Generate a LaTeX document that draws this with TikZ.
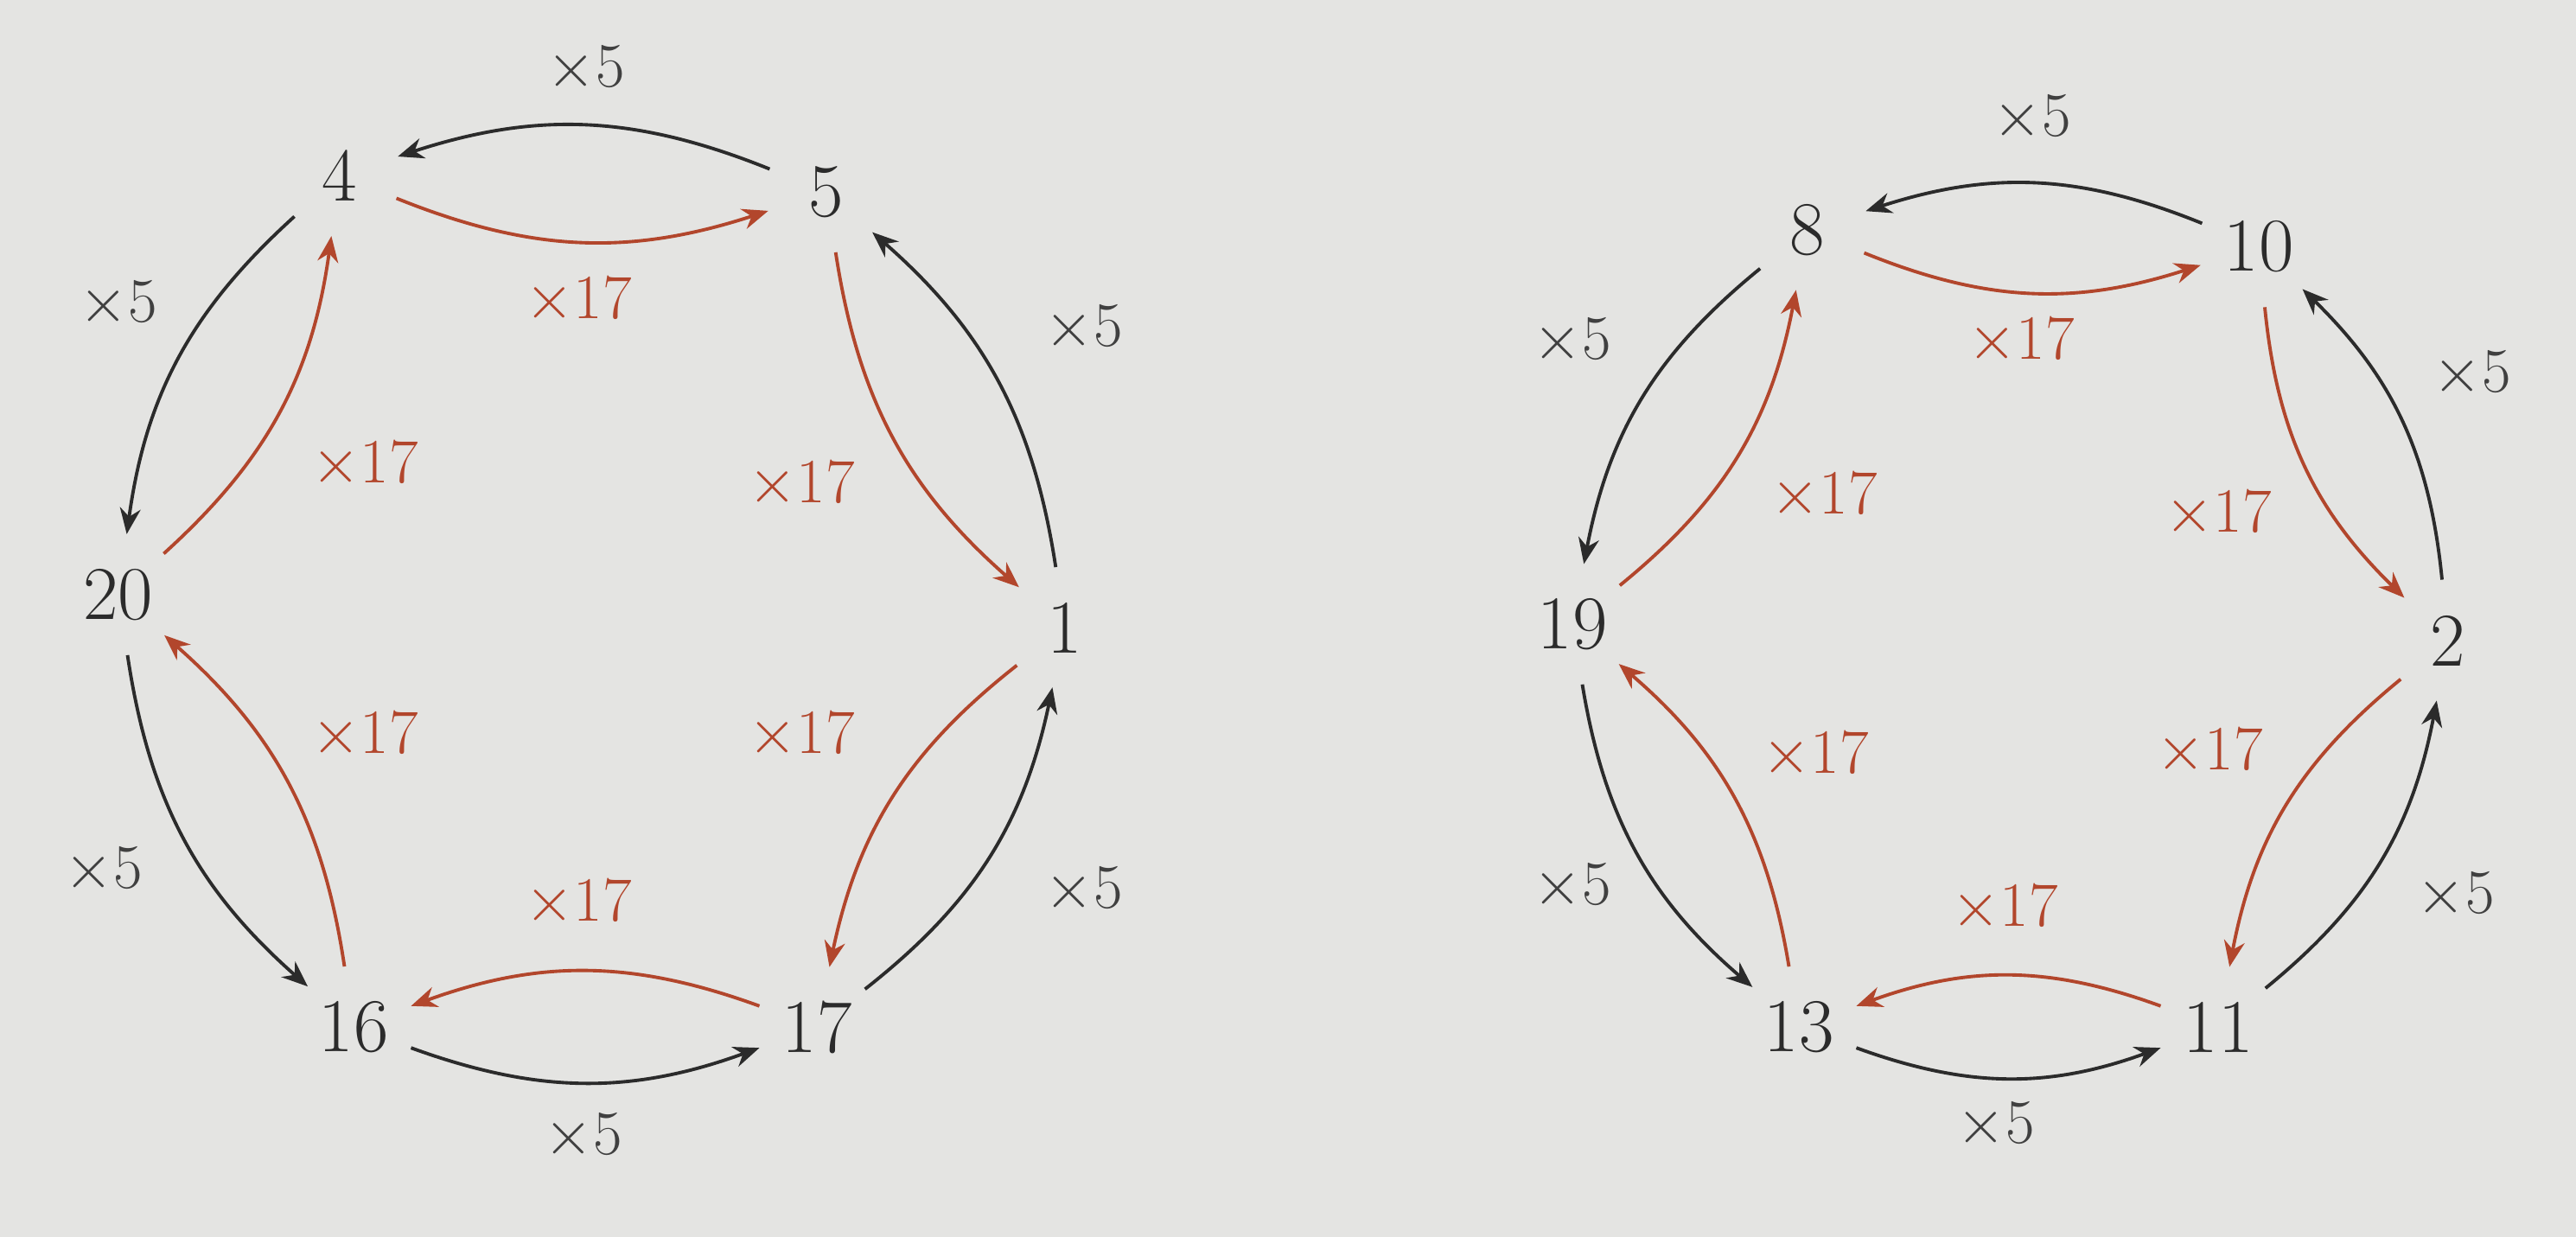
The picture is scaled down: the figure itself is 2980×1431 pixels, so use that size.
\documentclass[tikz,border=0pt]{standalone}
\usepackage{xcolor}
\usepackage{tikz}
\usetikzlibrary{arrows.meta,positioning}
\definecolor{paper}{HTML}{E4E4E2}
\definecolor{inkdark}{HTML}{2B2B2B}
\definecolor{rust}{HTML}{B2462C}
\tikzset{
  numnode/.style={
    circle, inner sep=2pt, minimum size=1.4cm,
    font=\fontsize{25}{30}\selectfont, text=inkdark
  },
  fivelabel/.style={font=\fontsize{21}{25}\selectfont, text=inkdark!90},
  sevlabel/.style={font=\fontsize{21}{25}\selectfont, text=rust},
  fivearrow/.style={-{Stealth[length=3mm,width=2.4mm]}, line width=1.1pt, color=inkdark, bend right=20},
  sevarrow/.style={-{Stealth[length=3mm,width=2.4mm]}, line width=1.1pt, color=rust, bend right=20},
}
\begin{document}
\begin{tikzpicture}[x=0.01cm, y=0.01cm]
  \fill[paper] (0,0) rectangle (2980,1431);
  \useasboundingbox (0,0) rectangle (2980,1431);

  % left cycle
  \node[numnode] (n4) at (393,1228) {4};
  \node[numnode] (n5) at (956,1209) {5};
  \node[numnode] (n1) at (1232,705) {1};
  \node[numnode] (n17) at (945,243) {17};
  \node[numnode] (n16) at (409,243) {16};
  \node[numnode] (n20) at (137,743) {20};

  % right cycle
  \node[numnode] (n8) at (2091,1165) {8};
  \node[numnode] (n10) at (2613,1146) {10};
  \node[numnode] (n2) at (2832,690) {2};
  \node[numnode] (n11) at (2566,243) {11};
  \node[numnode] (n13) at (2081,243) {13};
  \node[numnode] (n19) at (1819,709) {19};

  \foreach \a/\b in {n5/n4,n4/n20,n20/n16,n16/n17,n17/n1,n1/n5,
                     n10/n8,n8/n19,n19/n13,n13/n11,n11/n2,n2/n10}
    \draw[fivearrow] (\a) to (\b);
  \foreach \a/\b in {n4/n5,n20/n4,n16/n20,n17/n16,n1/n17,n5/n1,
                     n8/n10,n19/n8,n13/n19,n11/n13,n2/n11,n10/n2}
    \draw[sevarrow] (\a) to (\b);

  % labels, left
  \node[fivelabel] (f54) at (678,1351) {$\times5$};
  \node[sevlabel] (s45) at (669,1083) {$\times17$};
  \node[fivelabel] (f420) at (137,1079) {$\times5$};
  \node[sevlabel] (s204) at (422,893) {$\times17$};
  \node[sevlabel] (s51) at (927,870) {$\times17$};
  \node[fivelabel] (f15) at (1254,1051) {$\times5$};
  \node[sevlabel] (s117) at (927,580) {$\times17$};
  \node[fivelabel] (f171) at (1254,401) {$\times5$};
  \node[sevlabel] (s1716) at (669,386) {$\times17$};
  \node[fivelabel] (f1617) at (675,116) {$\times5$};
  \node[sevlabel] (s1620) at (422,580) {$\times17$};
  \node[fivelabel] (f2016) at (120,424) {$\times5$};

  % labels, right
  \node[fivelabel] (f108) at (2351,1294) {$\times5$};
  \node[sevlabel] (s810) at (2338,1036) {$\times17$};
  \node[fivelabel] (f819) at (1819,1036) {$\times5$};
  \node[sevlabel] (s198) at (2110,857) {$\times17$};
  \node[sevlabel] (s102) at (2566,836) {$\times17$};
  \node[fivelabel] (f210) at (2860,998) {$\times5$};
  \node[sevlabel] (s211) at (2556,561) {$\times17$};
  \node[fivelabel] (f112) at (2841,395) {$\times5$};
  \node[sevlabel] (s1113) at (2319,380) {$\times17$};
  \node[fivelabel] (f1311) at (2309,129) {$\times5$};
  \node[sevlabel] (s1319) at (2100,557) {$\times17$};
  \node[fivelabel] (f1913) at (1819,405) {$\times5$};
\end{tikzpicture}
\end{document}
